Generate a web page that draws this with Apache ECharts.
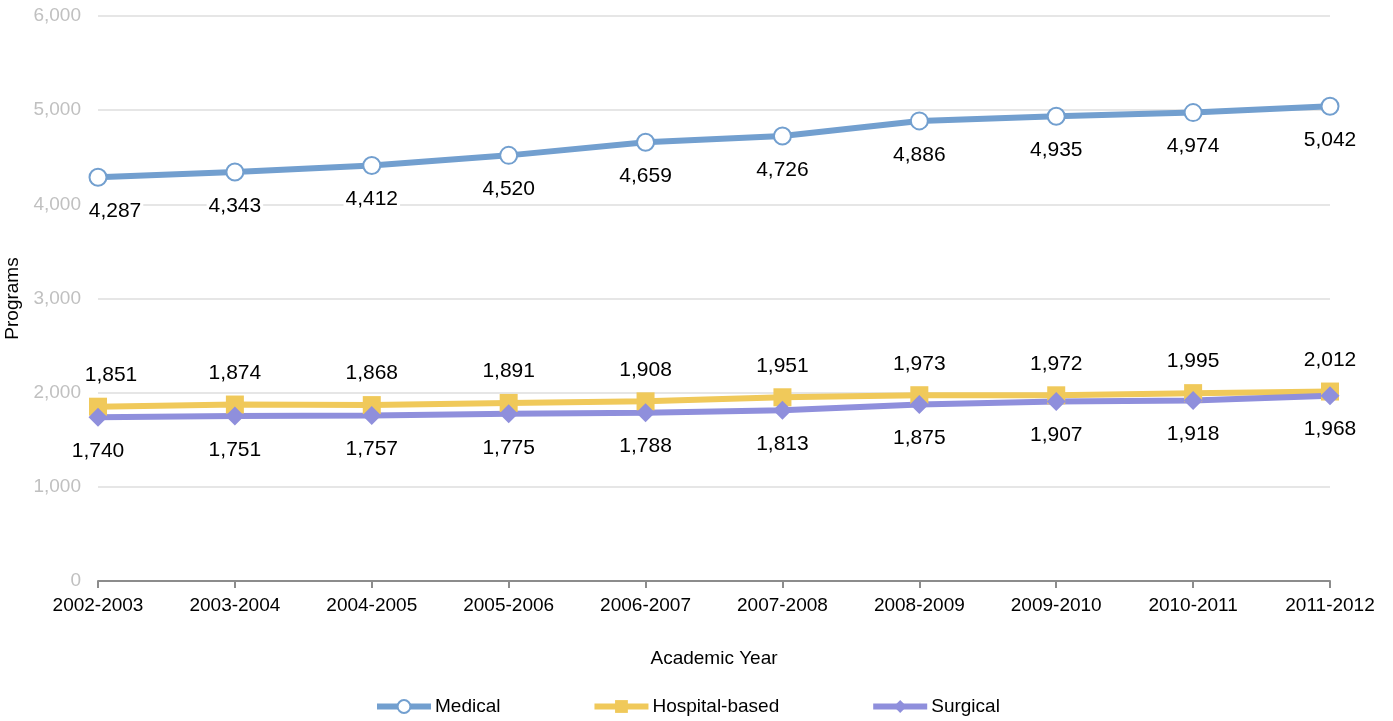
<!DOCTYPE html>
<html>
<head>
<meta charset="utf-8">
<script src="https://cdn.jsdelivr.net/npm/echarts@6/dist/echarts.min.js"></script>
<style>
  html, body { margin: 0; padding: 0; background: #fff; }
  #main { width: 1393px; height: 721px; }
</style>
</head>
<body>
<div id="main"></div>
<script>
// academic years on the x axis
var years = ['2002-2003', '2003-2004', '2004-2005', '2005-2006', '2006-2007',
             '2007-2008', '2008-2009', '2009-2010', '2010-2011', '2011-2012'];
// number of programs per type
var medical = [4287, 4343, 4412, 4520, 4659, 4726, 4886, 4935, 4974, 5042];
var hospitalBased = [1851, 1874, 1868, 1891, 1908, 1951, 1973, 1972, 1995, 2012];
var surgical = [1740, 1751, 1757, 1775, 1788, 1813, 1875, 1907, 1918, 1968];
var yTicks = [0, 1000, 2000, 3000, 4000, 5000, 6000];

var font = 'Liberation Sans, Arial, sans-serif';

function fmt(v) {
    return v.toLocaleString('en-US');
}

// firstShift nudges the first label right, like the original does near the y axis
function makeSeries(name, values, color, symbol, size, labelPos, labelDist, firstShift) {
    var data = values.map(function (v, i) {
        if (i === 0 && firstShift) {
            return { value: v, label: { offset: [firstShift, 0] } };
        }
        return v;
    });
    return {
        name: name,
        type: 'line',
        data: data,
        symbol: symbol,
        symbolSize: size,
        showAllSymbol: true,
        lineStyle: { color: color, width: 6 },
        itemStyle: { color: color, borderWidth: symbol === 'emptyCircle' ? 2 : 0 },
        label: {
            show: true,
            position: labelPos,
            distance: labelDist,
            color: '#000',
            fontFamily: font,
            fontSize: 21,
            backgroundColor: '#fff',
            padding: [1, 2],
            formatter: function (p) { return fmt(p.value); }
        },
        emphasis: { disabled: true },
        animation: false
    };
}

var chart = echarts.init(document.getElementById('main'));
chart.setOption({
    backgroundColor: '#fff',
    animation: false,
    grid: { left: 98, right: 63, top: 16, bottom: 140, containLabel: false, outerBoundsMode: 'none' },
    legend: {
        bottom: 0,
        left: 369,
        itemWidth: 54,
        itemHeight: 16,
        itemGap: 91,
        lineStyle: { width: 6 },
        textStyle: { color: '#000', fontFamily: font, fontSize: 19, padding: [0, 0, 0, -1] },
        data: ['Medical', 'Hospital-based', 'Surgical']
    },
    xAxis: {
        type: 'category',
        data: years,
        boundaryGap: false,
        name: 'Academic Year',
        nameLocation: 'middle',
        nameGap: 68,
        nameTextStyle: { color: '#000', fontFamily: font, fontSize: 19 },
        axisLine: { lineStyle: { color: '#8c8c8c', width: 2 } },
        axisTick: { show: true, alignWithLabel: true, length: 7, lineStyle: { color: '#8c8c8c', width: 2 } },
        axisLabel: { color: '#000', fontFamily: font, fontSize: 19, margin: 15, interval: 0 }
    },
    yAxis: {
        type: 'value',
        min: yTicks[0],
        max: yTicks[yTicks.length - 1],
        interval: 1000,
        name: 'Programs',
        nameLocation: 'middle',
        nameGap: 72,
        nameRotate: 90,
        nameTextStyle: { color: '#000', fontFamily: font, fontSize: 19 },
        axisLine: { show: false },
        axisTick: { show: false },
        splitLine: { lineStyle: { color: '#e6e6e6', width: 2 } },
        axisLabel: {
            color: '#c0c0c0', fontFamily: font, fontSize: 19, margin: 17,
            formatter: function (v) { return fmt(v); }
        }
    },
    series: [
        makeSeries('Medical', medical, '#729fcf', 'emptyCircle', 17, 'bottom', 13, 17),
        makeSeries('Hospital-based', hospitalBased, '#f0c95a', 'rect', 18, 'top', 11, 13),
        makeSeries('Surgical', surgical, '#8f8fdc', 'diamond', 19, 'bottom', 13, 0)
    ]
});
</script>
</body>
</html>
